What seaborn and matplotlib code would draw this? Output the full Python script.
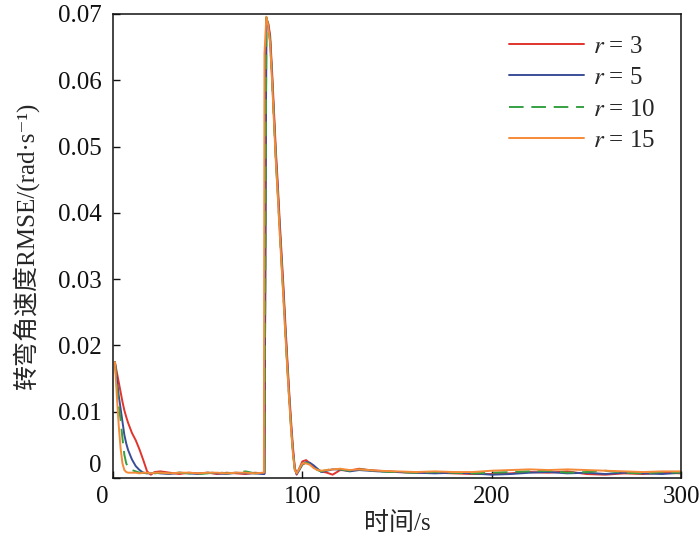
import numpy as np
import pandas as pd
import matplotlib
matplotlib.use("Agg")
import matplotlib.pyplot as plt
import matplotlib.transforms as mtransforms
import seaborn as sns

# ---------------- data ----------------
t = [1, 2, 3, 4, 5, 6, 7, 8, 10, 12, 14, 16, 18, 20, 22, 25, 30, 35, 40, 45,
     50, 55, 60, 65, 70, 75, 79, 79.7, 80, 81, 82, 83, 84, 85, 86, 87, 88, 89,
     90, 91, 92, 93, 94, 95, 96, 97, 98, 100, 102, 104, 106, 108, 110, 113,
     116, 120, 125, 130, 135, 140, 150, 160, 170, 180, 190, 200, 210, 220,
     230, 240, 250, 260, 270, 280, 290, 300]

r3 = [0.0175, 0.0160, 0.0145, 0.0130, 0.0115, 0.0102, 0.0092, 0.0083, 0.0068,
      0.0057, 0.0043, 0.0027, 0.0010, 0.0005, 0.0009, 0.0010, 0.0008, 0.0006,
      0.0008, 0.0007, 0.0008, 0.0006, 0.0008, 0.0007, 0.0006, 0.0008, 0.0007,
      0.0007, 0.0007, 0.0692, 0.0686, 0.0668, 0.0615, 0.0555, 0.0495, 0.0445,
      0.0390, 0.0340, 0.0290, 0.0235, 0.0183, 0.0133, 0.0088, 0.0048, 0.0016,
      0.0005, 0.0012, 0.0025, 0.0027, 0.0022, 0.0017, 0.0013, 0.0010, 0.0008,
      0.0005, 0.0012, 0.0011, 0.0014, 0.0012, 0.0011, 0.0009, 0.0008, 0.0008,
      0.0007, 0.0006, 0.0006, 0.0007, 0.0009, 0.0008, 0.0010, 0.0006, 0.0005,
      0.0007, 0.0006, 0.0008, 0.0007]

r5 = [0.0175, 0.0150, 0.0125, 0.0105, 0.0085, 0.0065, 0.0052, 0.0042, 0.0028,
      0.0018, 0.0012, 0.0008, 0.0007, 0.0007, 0.0008, 0.0007, 0.0006, 0.0008,
      0.0007, 0.0006, 0.0008, 0.0007, 0.0006, 0.0008, 0.0007, 0.0007, 0.0006,
      0.0006, 0.0006, 0.0694, 0.0684, 0.0660, 0.0605, 0.0545, 0.0485, 0.0435,
      0.0380, 0.0330, 0.0280, 0.0225, 0.0175, 0.0125, 0.0080, 0.0042, 0.0014,
      0.0006, 0.0010, 0.0020, 0.0024, 0.0023, 0.0019, 0.0014, 0.0009, 0.0011,
      0.0013, 0.0013, 0.0010, 0.0012, 0.0011, 0.0010, 0.0009, 0.0008, 0.0007,
      0.0008, 0.0007, 0.0005, 0.0006, 0.0008, 0.0009, 0.0007, 0.0008, 0.0006,
      0.0008, 0.0007, 0.0006, 0.0008]

r10 = [0.0175, 0.0140, 0.0110, 0.0088, 0.0060, 0.0035, 0.0022, 0.0016, 0.0012,
       0.0010, 0.0008, 0.0008, 0.0007, 0.0008, 0.0007, 0.0008, 0.0007, 0.0008,
       0.0007, 0.0006, 0.0007, 0.0009, 0.0007, 0.0008, 0.0010, 0.0007, 0.0008,
       0.0008, 0.0008, 0.0695, 0.0683, 0.0658, 0.0602, 0.0540, 0.0480, 0.0430,
       0.0375, 0.0325, 0.0275, 0.0220, 0.0170, 0.0122, 0.0078, 0.0040, 0.0013,
       0.0006, 0.0011, 0.0021, 0.0023, 0.0021, 0.0016, 0.0012, 0.0010, 0.0012,
       0.0014, 0.0013, 0.0011, 0.0013, 0.0012, 0.0010, 0.0009, 0.0008, 0.0009,
       0.0008, 0.0007, 0.0008, 0.0009, 0.0010, 0.0011, 0.0008, 0.0009, 0.0011,
       0.0008, 0.0007, 0.0009, 0.0008]

r15 = [0.0175, 0.0125, 0.0080, 0.0045, 0.0022, 0.0012, 0.0009, 0.0008, 0.0008,
       0.0008, 0.0007, 0.0008, 0.0008, 0.0007, 0.0008, 0.0008, 0.0007, 0.0008,
       0.0008, 0.0007, 0.0008, 0.0008, 0.0007, 0.0008, 0.0008, 0.0007, 0.0008,
       0.0008, 0.0640, 0.0696, 0.0682, 0.0655, 0.0600, 0.0538, 0.0478, 0.0428,
       0.0372, 0.0322, 0.0272, 0.0218, 0.0168, 0.0120, 0.0076, 0.0038, 0.0012,
       0.0007, 0.0012, 0.0022, 0.0022, 0.0020, 0.0015, 0.0012, 0.0011, 0.0012,
       0.0013, 0.0014, 0.0012, 0.0013, 0.0012, 0.0011, 0.0010, 0.0009, 0.0010,
       0.0009, 0.0009, 0.0011, 0.0012, 0.0013, 0.0012, 0.0013, 0.0012, 0.0011,
       0.0010, 0.0009, 0.0010, 0.0010]

labels = [r"$r$ = 3", r"$r$ = 5", r"$r$ = 10", r"$r$ = 15"]
series = [r3, r5, r10, r15]
colors = ["#e0342c", "#3a4e98", "#35a042", "#f58a38"]

x_ticks = [0, 100, 200, 300]
y_ticks = [0, 0.01, 0.02, 0.03, 0.04, 0.05, 0.06, 0.07]
y_ticklabels = ["0", "0.01", "0.02", "0.03", "0.04", "0.05", "0.06", "0.07"]

# ---------------- style ----------------
sns.set_theme(style="ticks")
FAM = ["Liberation Serif", "Noto Sans CJK SC", "DejaVu Serif"]
plt.rcParams["font.family"] = FAM
plt.rcParams["mathtext.fontset"] = "stix"
plt.rcParams["axes.linewidth"] = 1.1

fig = plt.figure(figsize=(7.0, 5.48), dpi=100)
ax = fig.add_axes([113 / 700, 1 - 478 / 548, (681 - 113) / 700, (478 - 14) / 548])

DASH = (7.5, 4)
for vals, lab, col in zip(series, labels, colors):
    df = pd.DataFrame({"t": t, "v": vals})
    sns.lineplot(data=df, x="t", y="v", ax=ax, color=col, lw=1.4,
                 label=lab, estimator=None, sort=False)
    if "10" in lab:
        ax.get_lines()[-1].set_dashes(DASH)

ax.set_xlim(0, 300)
ax.set_ylim(0, 0.07)
ax.set_xticks(x_ticks)
ax.set_xticklabels([str(v) for v in x_ticks])
ax.set_yticks(y_ticks)
ax.set_yticklabels(y_ticklabels)
ax.tick_params(direction="in", length=5, width=1.0, labelsize=18,
               colors="#111111", top=False, right=False)
ax.tick_params(axis="x", pad=6)
ax.tick_params(axis="y", pad=8)
for s in ax.spines.values():
    s.set_color("#111111")
    s.set_visible(True)

# corner "0" labels shifted like the reference
xl0 = ax.get_xticklabels()[0]
xl0.set_transform(xl0.get_transform() + mtransforms.ScaledTranslation(-11 / 100, 0, fig.dpi_scale_trans))
yl0 = ax.get_yticklabels()[0]
yl0.set_transform(yl0.get_transform() + mtransforms.ScaledTranslation(0, 15 / 100, fig.dpi_scale_trans))

ax.set_xlabel("时间/s", fontsize=18, labelpad=3, family=FAM)
ax.set_ylabel("转弯角速度RMSE/(rad·s⁻¹)", fontsize=18, labelpad=14, family=FAM)

leg = ax.legend(loc="upper right", frameon=False, fontsize=18,
                handlelength=3.0, labelspacing=0.36, handletextpad=0.35,
                borderaxespad=0.3, bbox_to_anchor=(0.985, 0.992))
for h in leg.get_lines():
    h.set_linewidth(1.4)
leg.get_lines()[2].set_dashes(DASH)

fig.savefig("out.png", dpi=100)
